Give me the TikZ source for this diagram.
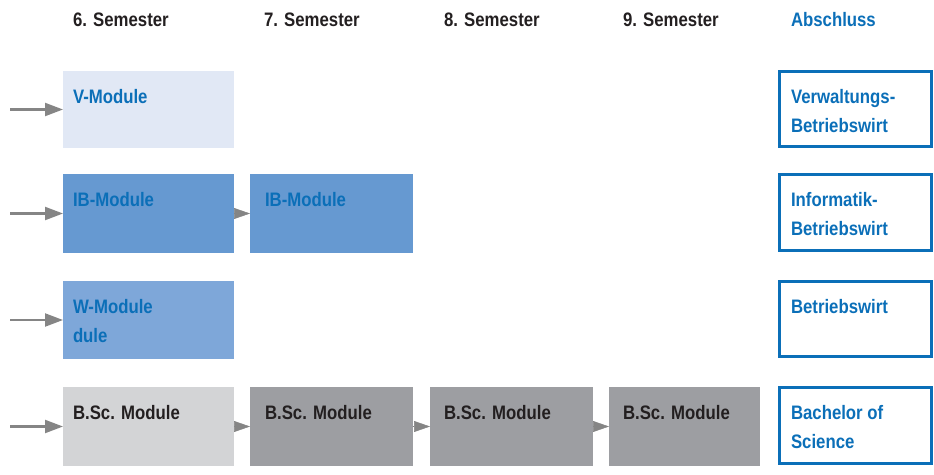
\documentclass[tikz,border=0pt]{standalone}
\usepackage{fontspec}
\setmainfont{Liberation Sans}[FakeStretch=0.86]
\usetikzlibrary{arrows.meta}
\definecolor{vfill}{HTML}{E1E8F5}
\definecolor{ibfill}{HTML}{6699D1}
\definecolor{wfill}{HTML}{7EA7D9}
\definecolor{bsclight}{HTML}{D3D4D6}
\definecolor{bscdark}{HTML}{9D9EA2}
\definecolor{txtblue}{HTML}{0B6FB8}
\definecolor{txtdark}{HTML}{231F20}
\definecolor{arrgray}{HTML}{858585}
\begin{document}
\begin{tikzpicture}
[x=1pt,y=-1pt,%
  every node/.style={inner sep=0pt,outer sep=0pt,font=\bfseries\fontsize{19.5}{29.5}\selectfont},%
  box/.style={anchor=north west,draw=none},%
  goal/.style={anchor=north west,draw=txtblue,line width=3pt,minimum width=152pt},%
  lbl/.style={anchor=base west,align=left,text=txtblue},%
  dlbl/.style={anchor=base west,align=left,text=txtdark},%
  arr/.style={-{Triangle[length=18pt,width=13pt]},line width=2.2pt,arrgray},%
  tip/.style={-{Triangle[length=16pt,width=11pt]},line width=0.5pt,arrgray}]
\useasboundingbox (0,0) rectangle (934,474);
% headings
\node[dlbl] (h6) at (73,26) {6. Semester};
\node[dlbl] (h7) at (264,26) {7. Semester};
\node[dlbl] (h8) at (444,26) {8. Semester};
\node[dlbl] (h9) at (623,26) {9. Semester};
\node[lbl] (hab) at (791,26) {Abschluss};
% module boxes
\node[box,fill=vfill,minimum width=171pt,minimum height=77pt] (v6) at (63,71) {};
\node[box,fill=ibfill,minimum width=171pt,minimum height=79pt] (ib6) at (63,174) {};
\node[box,fill=ibfill,minimum width=163pt,minimum height=79pt] (ib7) at (250,174) {};
\node[box,fill=wfill,minimum width=171pt,minimum height=78pt] (w6) at (63,281) {};
\node[box,fill=bsclight,minimum width=171pt,minimum height=79pt] (bsc6) at (63,387) {};
\node[box,fill=bscdark,minimum width=163pt,minimum height=79pt] (bsc7) at (250,387) {};
\node[box,fill=bscdark,minimum width=163pt,minimum height=79pt] (bsc8) at (430,387) {};
\node[box,fill=bscdark,minimum width=151pt,minimum height=79pt] (bsc9) at (609,387) {};
\node[lbl] (v6t) at (73,103) {V-Module};
\node[lbl] (ib6t) at (73,206) {IB-Module};
\node[lbl] (ib7t) at (265,206) {IB-Module};
\node[lbl] (w6t) at (73,342.5) {W-Module\\dule};
\node[dlbl] (bsc6t) at (73,419) {B.Sc. Module};
\node[dlbl] (bsc7t) at (265,419) {B.Sc. Module};
\node[dlbl] (bsc8t) at (444,419) {B.Sc. Module};
\node[dlbl] (bsc9t) at (623,419) {B.Sc. Module};
% degrees
\node[goal,minimum height=75pt] (abvb) at (779.5,71.5) {};
\node[goal,minimum height=76pt] (abib) at (779.5,174.5) {};
\node[goal,minimum height=75pt] (abbw) at (779.5,281.5) {};
\node[goal,minimum height=76pt] (abbsc) at (779.5,387.5) {};
\node[lbl] (abvbt) at (791,132.5) {Verwaltungs-\\Betriebswirt};
\node[lbl] (abibt) at (791,235.5) {Informatik-\\Betriebswirt};
\node[lbl] (abbwt) at (791,313) {Betriebswirt};
\node[lbl] (abbsct) at (791,448.5) {Bachelor of\\Science};
% arrows
\coordinate (in1) at (10,109.5);
\coordinate (in2) at (10,213.5);
\coordinate (in3) at (10,320);
\coordinate (in4) at (10,426.5);
\draw[arr] (in1) -- (v6.west);
\draw[arr] (in2) -- (ib6.west);
\draw[arr] (in3) -- (w6.west);
\draw[arr] (in4) -- (bsc6.west);
\draw[tip] (ib6.east) -- (ib7.west);
\draw[tip] (bsc6.east) -- (bsc7.west);
\draw[tip] (bsc7.east) -- (bsc8.west);
\draw[tip] (bsc8.east) -- (bsc9.west);
\end{tikzpicture}
\end{document}
